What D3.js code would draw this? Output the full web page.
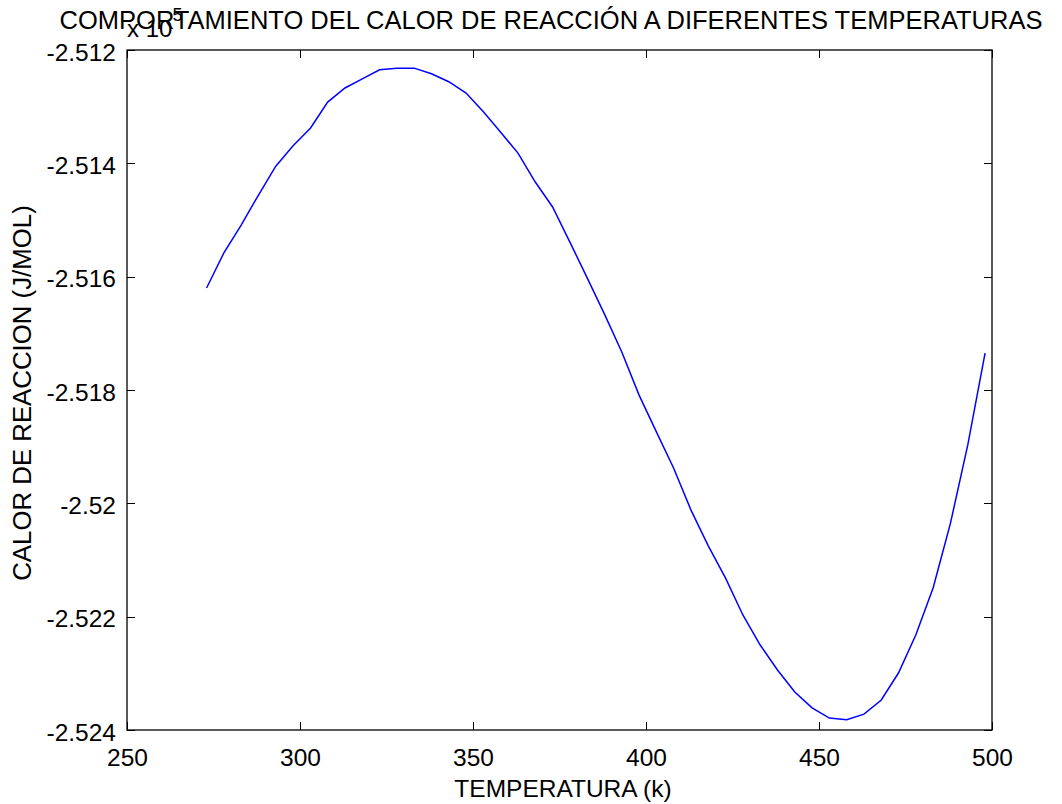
<!DOCTYPE html>
<head>
  <meta charset="utf-8">
  <script src="https://cdn.jsdelivr.net/npm/d3@7"></script>
  <style>
    body { margin: 0; background: #fff; }
    text {
      font-family: "Liberation Sans", Arial, sans-serif;
      font-size: 24.5px;
      fill: #000;
    }
    .tick text { font-size: 24.5px; }
    .tick line { stroke: #000; shape-rendering: crispEdges; }
    path.domain { display: none; }
  </style>
</head>
<body>
  <svg width="1062" height="804"></svg>
  <script>
    // temperature (K) and heat of reaction (J/mol)
    const temps = [273, 278, 283, 288, 293, 298, 303, 308, 313, 318, 323, 328, 333, 338, 343, 348,
      353, 358, 363, 368, 373, 378, 383, 388, 393, 398, 403, 408, 413, 418, 423, 428, 433, 438,
      443, 448, 453, 458, 463, 468, 473, 478, 483, 488, 493, 498];
    const heat = [-251620, -251558, -251509, -251456, -251405, -251369, -251338, -251292, -251267,
      -251251, -251235, -251232, -251232, -251242, -251256, -251276, -251309, -251345, -251382,
      -251433, -251477, -251539, -251602, -251666, -251733, -251809, -251874, -251938, -252012,
      -252075, -252132, -252197, -252250, -252294, -252333, -252361, -252379, -252382, -252372,
      -252347, -252299, -252232, -252149, -252035, -251897, -251735];
    const xTicks = [250, 300, 350, 400, 450, 500];
    const yTicks = [-2.524, -2.522, -2.52, -2.518, -2.516, -2.514, -2.512];

    const margin = { top: 50, right: 70, bottom: 74, left: 127 };
    const width = 1062, height = 804;
    const svg = d3.select("svg");

    const x = d3.scaleLinear().domain([250, 500]).range([margin.left, width - margin.right]);
    // y in units of 1e5
    const y = d3.scaleLinear().domain([-2.524, -2.512]).range([height - margin.bottom, margin.top]);

    const tickLen = 8;
    const fmtY = d => String(+d.toFixed(3)); // plain hyphen minus like the original

    // bottom axis
    svg.append("g")
      .attr("transform", `translate(0,${height - margin.bottom})`)
      .call(d3.axisBottom(x).tickValues(xTicks).tickSizeInner(-tickLen).tickSizeOuter(0).tickPadding(36).tickFormat(d3.format("d")))
      .selectAll("text").attr("dy", "0");
    // top axis (ticks only)
    svg.append("g")
      .attr("transform", `translate(0,${margin.top})`)
      .call(d3.axisTop(x).tickValues(xTicks).tickSizeInner(-tickLen).tickSizeOuter(0).tickFormat(""));
    // left axis
    svg.append("g")
      .attr("transform", `translate(${margin.left},0)`)
      .call(d3.axisLeft(y).tickValues(yTicks).tickSizeInner(-tickLen).tickSizeOuter(0).tickPadding(11).tickFormat(fmtY))
      .selectAll("text").attr("dy", "0.42em");
    // right axis (ticks only)
    svg.append("g")
      .attr("transform", `translate(${width - margin.right},0)`)
      .call(d3.axisRight(y).tickValues(yTicks).tickSizeInner(-tickLen).tickSizeOuter(0).tickFormat(""));

    // box
    svg.append("rect")
      .attr("x", margin.left).attr("y", margin.top)
      .attr("width", width - margin.right - margin.left)
      .attr("height", height - margin.bottom - margin.top)
      .attr("fill", "none").attr("stroke", "#000").attr("stroke-width", 1.3);

    // curve
    const pts = temps.map((t, i) => [t, heat[i] / 1e5]);
    svg.append("path")
      .datum(pts)
      .attr("fill", "none")
      .attr("stroke", "#0000ff")
      .attr("stroke-width", 1.5)
      .attr("d", d3.line().x(d => x(d[0])).y(d => y(d[1])));

    // exponent label
    const ex = svg.append("text").attr("x", margin.left).attr("y", 37).style("font-size", "24px");
    ex.append("tspan").text("x 10");
    ex.append("tspan").attr("dy", -16).style("font-size", "18px").text("5");

    // title
    svg.append("text")
      .attr("x", 551)
      .attr("y", 29)
      .attr("text-anchor", "middle")
      .style("font-size", "25.5px")
      .text("COMPORTAMIENTO DEL CALOR DE REACCIÓN A DIFERENTES TEMPERATURAS");

    // axis labels
    svg.append("text")
      .attr("x", 563)
      .attr("y", 797)
      .attr("text-anchor", "middle")
      .style("font-size", "24.5px")
      .text("TEMPERATURA (k)");

    svg.append("text")
      .attr("transform", `translate(31,393) rotate(-90)`)
      .attr("text-anchor", "middle")
      .style("font-size", "25.8px")
      .text("CALOR DE REACCION (J/MOL)");
  </script>
</body>
